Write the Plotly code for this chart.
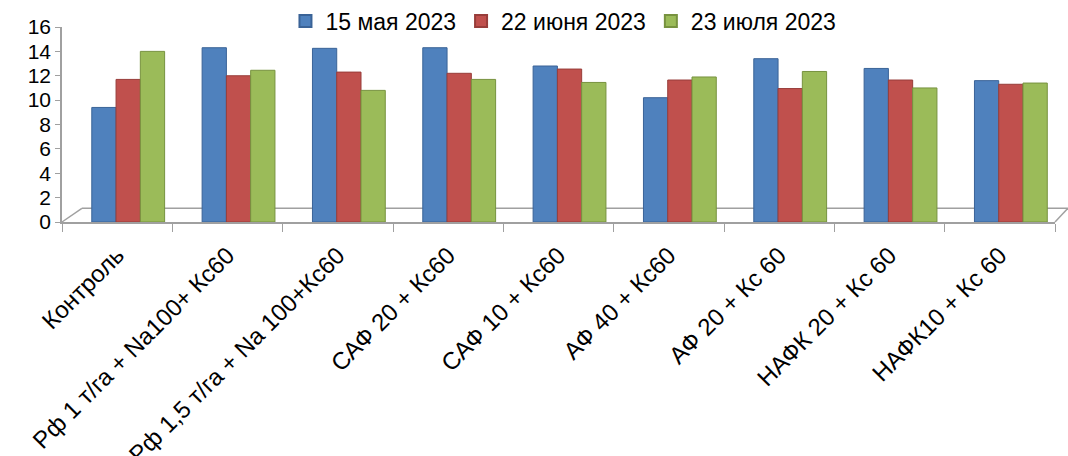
import plotly.graph_objects as go

categories = ["Контроль", "Рф 1 т/га + Na100+ Кс60", "Рф 1,5 т/га + Na 100+Кс60",
              "САФ 20 + Кс60", "САФ 10 + Кс60", "АФ 40 + Кс60", "АФ 20 + Кс 60",
              "НАФК 20 + Кс 60", "НАФК10 + Кс 60"]
series_names = ["15 мая 2023", "22 июня 2023", "23 июля 2023"]
may = [9.4, 14.3, 14.25, 14.3, 12.8, 10.2, 13.4, 12.6, 11.6]
june = [11.7, 12.0, 12.3, 12.2, 12.55, 11.65, 10.95, 11.65, 11.3]
july = [14.0, 12.45, 10.8, 11.7, 11.45, 11.9, 12.35, 11.0, 11.4]
colors = ["#4F81BD", "#C0504D", "#9BBB59"]
edge = ["#3A6397", "#983D3A", "#77923F"]
offsets = [-0.23, -0.01, 0.21]

fig = go.Figure()
for name, vals, c, e, off in zip(series_names, [may, june, july], colors, edge, offsets):
    fig.add_trace(go.Bar(
        x=categories, y=vals, name=name, width=0.22, offset=off,
        marker=dict(color=c, line=dict(color=e, width=1)),
    ))

FONT = "Liberation Sans"
fig.update_layout(
    width=1068, height=456,
    margin=dict(l=62, r=13, t=27, b=234, autoexpand=False),
    barmode="overlay",
    plot_bgcolor="white", paper_bgcolor="white",
    font=dict(family=FONT, color="black"),
    showlegend=True,
    legend=dict(orientation="h", x=0.505, xanchor="center", y=1.03, yanchor="middle",
                font=dict(size=23, family=FONT), itemsizing="constant",
                bgcolor="rgba(0,0,0,0)", traceorder="normal", itemwidth=30),
    xaxis=dict(type="category", tickangle=-45, tickson="boundaries", ticks="outside",
               ticklen=8, tickcolor="#A0A0A0", showline=True, linecolor="#A0A0A0",
               linewidth=1.5, tickfont=dict(size=24, family=FONT), showgrid=False,
               ticklabelstandoff=8),
    yaxis=dict(range=[0, 16], dtick=2, ticks="outside", ticklen=5, tickcolor="#A0A0A0",
               showline=True, linecolor="#A0A0A0", linewidth=1.5, showgrid=False,
               tickfont=dict(size=21, family=FONT), zeroline=False),
)

# 3D-like floor outline
floor = [
    dict(x0=0, y0=0, x1=0.02, y1=0.07),
    dict(x0=0.02, y0=0.07, x1=1.013, y1=0.07),
    dict(x0=1.0, y0=0, x1=1.013, y1=0.07),
]
for s in floor:
    fig.add_shape(type="line", xref="paper", yref="paper", layer="below",
                  line=dict(color="#A0A0A0", width=1.5), **s)

fig.write_html("out.html")
